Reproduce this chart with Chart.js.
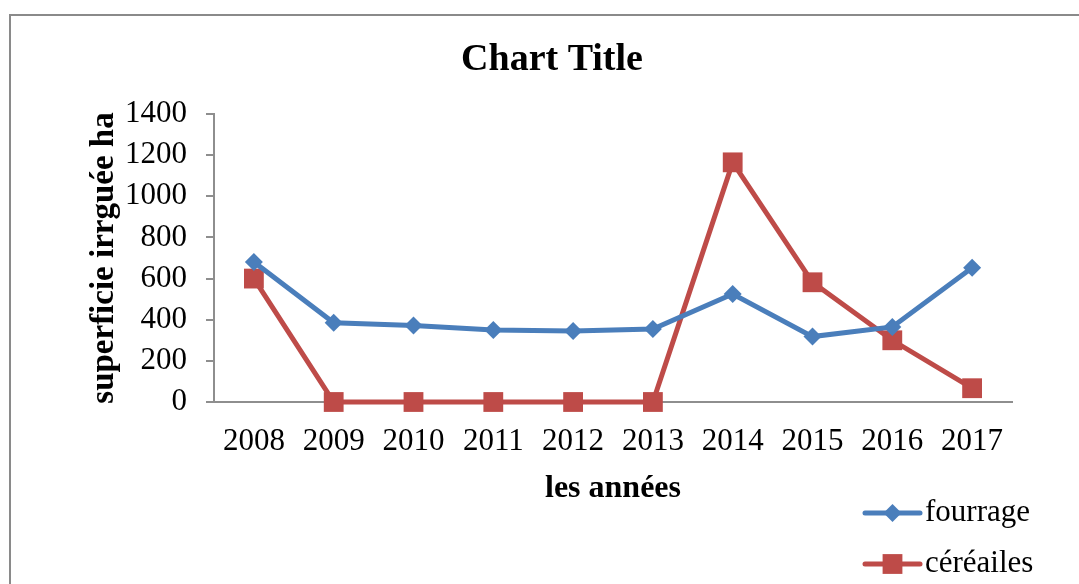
<!DOCTYPE html>
<html>
<head>
<meta charset="utf-8">
<script src="https://cdn.jsdelivr.net/npm/chart.js@4/dist/chart.umd.min.js"></script>
<style>
  html, body { margin: 0; padding: 0; background: #fff; }
  #wrap { position: relative; width: 1079px; height: 584px; }
</style>
</head>
<body>
<div id="wrap"><canvas id="c" width="1079" height="584"></canvas></div>
<script>
// Irrigated area (ha) per year
const years = ['2008', '2009', '2010', '2011', '2012', '2013', '2014', '2015', '2016', '2017'];
const fourrage = [680, 385, 372, 350, 345, 355, 525, 318, 365, 653];
const cereales = [600, 0, 0, 0, 0, 0, 1165, 582, 300, 67];
const yTicks = [0, 200, 400, 600, 800, 1000, 1200, 1400];

const SERIF = '"Liberation Serif", "Times New Roman", serif';
const BLUE = '#4a7ebb';
const RED = '#be4b48';

// Frame around the whole chart and the chart heading
const framePlugin = {
  id: 'frame',
  beforeDraw(chart, args, opts) {
    const ctx = chart.ctx;
    ctx.save();
    ctx.fillStyle = '#fff';
    ctx.fillRect(0, 0, chart.width, chart.height);
    ctx.strokeStyle = '#8a8a8a';
    ctx.lineWidth = 2;
    ctx.strokeRect(10, 15, 1200, 800);
    ctx.fillStyle = '#000';
    ctx.font = 'bold 38px ' + SERIF;
    ctx.textAlign = 'center';
    ctx.textBaseline = 'middle';
    ctx.fillText(opts.text, opts.x, opts.y);
    ctx.restore();
  }
};

function marker(ctx, style, x, y, r) {
  ctx.beginPath();
  if (style === 'rectRot') {
    ctx.moveTo(x - r, y); ctx.lineTo(x, y - r); ctx.lineTo(x + r, y); ctx.lineTo(x, y + r);
  } else {
    const s = r * Math.SQRT1_2;
    ctx.rect(x - s, y - s, 2 * s, 2 * s);
  }
  ctx.closePath();
  ctx.fill();
}

// Vertical legend at the lower right, one entry per dataset
const legendPlugin = {
  id: 'stackedLegend',
  afterDraw(chart, args, opts) {
    const ctx = chart.ctx;
    ctx.save();
    chart.data.datasets.forEach((ds, i) => {
      const y = opts.top + i * opts.gap;
      ctx.strokeStyle = ds.borderColor;
      ctx.lineWidth = ds.borderWidth;
      ctx.lineCap = 'round';
      ctx.beginPath();
      ctx.moveTo(opts.x0, y);
      ctx.lineTo(opts.x1, y);
      ctx.stroke();
      ctx.fillStyle = ds.pointBackgroundColor;
      marker(ctx, ds.pointStyle, (opts.x0 + opts.x1) / 2, y, ds.pointRadius);
      ctx.fillStyle = '#000';
      ctx.font = '31px ' + SERIF;
      ctx.textBaseline = 'middle';
      ctx.textAlign = 'left';
      ctx.fillText(ds.label, opts.x1 + 5, y);
    });
    ctx.restore();
  }
};

new Chart(document.getElementById('c'), {
  type: 'line',
  data: {
    labels: years,
    datasets: [
      {
        label: 'fourrage', data: fourrage,
        borderColor: BLUE, backgroundColor: BLUE, pointBackgroundColor: BLUE, pointBorderColor: BLUE,
        borderWidth: 5, pointStyle: 'rectRot', pointRadius: 9, pointBorderWidth: 0,
        tension: 0, clip: false
      },
      {
        label: 'céréailes', data: cereales,
        borderColor: RED, backgroundColor: RED, pointBackgroundColor: RED, pointBorderColor: RED,
        borderWidth: 5, pointStyle: 'rect', pointRadius: 14, pointBorderWidth: 0,
        tension: 0, clip: false
      }
    ]
  },
  options: {
    responsive: false,
    animation: false,
    layout: { padding: { left: 0, right: 67, top: 114, bottom: 72 } },
    plugins: {
      legend: { display: false },
      tooltip: { enabled: false },
      title: { display: false },
      frame: { text: 'Chart Title', x: 552, y: 60 },
      stackedLegend: { x0: 865, x1: 920, top: 513, gap: 51 }
    },
    scales: {
      x: {
        offset: true,
        grid: { display: false, drawTicks: false },
        border: { display: true, color: '#8e8e8e', width: 2 },
        ticks: { color: '#000', padding: 21, maxRotation: 0, font: { family: SERIF, size: 31, lineHeight: 1.2 } },
        title: {
          display: true, text: 'les années', color: '#000',
          font: { family: SERIF, size: 32, weight: 'bold', lineHeight: 1.2 },
          padding: { top: 0, bottom: 4 }
        },
        afterFit(s) { s.height = 110; }
      },
      y: {
        min: 0, max: 1400,
        afterBuildTicks(s) { s.ticks = yTicks.map(v => ({ value: v })); },
        grid: { drawOnChartArea: false, drawTicks: true, tickLength: 8, color: '#8e8e8e', lineWidth: 2 },
        border: { display: true, color: '#8e8e8e', width: 2 },
        ticks: {
          color: '#000', padding: 19, font: { family: SERIF, size: 31, lineHeight: 1.2 },
          callback: v => String(v)
        },
        title: {
          display: true, text: 'superficie irrguée ha', color: '#000',
          font: { family: SERIF, size: 33, weight: 'bold', lineHeight: 0.9 },
          padding: { top: 90, bottom: 0 }
        },
        afterFit(s) { s.width = 214; }
      }
    }
  },
  plugins: [framePlugin, legendPlugin]
});
</script>
</body>
</html>
